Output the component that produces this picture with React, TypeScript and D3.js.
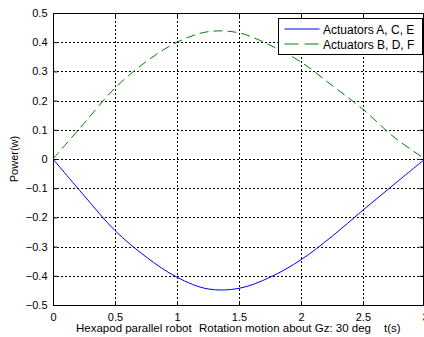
import { useEffect, useRef } from 'react';
import * as d3 from 'd3';

// time samples (s)
const times = [0, 0.25, 0.5, 0.75, 1.0, 1.25, 1.5, 1.75, 2.0, 2.25, 2.5, 2.75, 3.0];
// power of actuators A, C, E (w)
const powerACE = [0, -0.125, -0.245, -0.335, -0.405, -0.445, -0.443, -0.405, -0.345, -0.265, -0.175, -0.087, 0];
// power of actuators B, D, F (w)
const powerBDF = [0, 0.122, 0.243, 0.333, 0.4, 0.436, 0.432, 0.39, 0.332, 0.252, 0.17, 0.075, 0];

const xTicks = [0, 0.5, 1, 1.5, 2, 2.5, 3];
const yTicks = [-0.5, -0.4, -0.3, -0.2, -0.1, 0, 0.1, 0.2, 0.3, 0.4, 0.5];
const seriesNames = ['Actuators A, C, E', 'Actuators B, D, F'];

const W = 424;
const H = 337;
const FONT = 'Liberation Sans, Arial, sans-serif';

export default function App() {
  const svgRef = useRef<SVGSVGElement>(null);

  useEffect(() => {
    if (!svgRef.current) return;
    const svg = d3.select(svgRef.current);
    svg.selectAll('*').remove();

    const left = 53, right = 425, top = 13, bottom = 305;

    const x = d3.scaleLinear().domain([0, 3]).range([left, right]);
    const y = d3.scaleLinear().domain([-0.5, 0.5]).range([bottom, top]);

    svg.append('rect').attr('width', W).attr('height', H).attr('fill', '#fff');

    // grid
    const grid = svg.append('g')
      .attr('stroke', '#000')
      .attr('stroke-width', 1)
      .attr('stroke-dasharray', '2,2');
    xTicks.slice(1, -1).forEach(t => {
      grid.append('line')
        .attr('x1', Math.round(x(t)) + 0.5).attr('x2', Math.round(x(t)) + 0.5)
        .attr('y1', top).attr('y2', bottom);
    });
    yTicks.slice(1, -1).forEach(v => {
      grid.append('line')
        .attr('x1', left).attr('x2', right)
        .attr('y1', Math.round(y(v)) + 0.5).attr('y2', Math.round(y(v)) + 0.5);
    });

    // axes (box with inward ticks)
    const axisStyle = (g: any) => {
      g.select('.domain').remove();
      g.selectAll('line').attr('stroke', '#000');
      g.selectAll('text').attr('fill', '#000').style('font-family', FONT).style('font-size', '11px');
    };

    svg.append('g')
      .attr('transform', `translate(0,${bottom + 0.5})`)
      .call(d3.axisBottom(x).tickValues(xTicks).tickSize(-4).tickPadding(8).tickFormat(d3.format('')))
      .call(axisStyle);
    svg.append('g')
      .attr('transform', `translate(0,${top + 0.5})`)
      .call(d3.axisTop(x).tickValues(xTicks).tickSize(-4).tickFormat(() => ''))
      .call(axisStyle);
    svg.append('g')
      .attr('transform', `translate(${left + 0.5},0)`)
      .call(d3.axisLeft(y).tickValues(yTicks).tickSize(-4).tickPadding(6).tickFormat(d3.format('')))
      .call(axisStyle);
    svg.append('g')
      .attr('transform', `translate(${right - 1.5},0)`)
      .call(d3.axisRight(y).tickValues(yTicks).tickSize(-4).tickFormat(() => ''))
      .call(axisStyle);

    svg.append('rect')
      .attr('x', left + 0.5).attr('y', top + 0.5)
      .attr('width', right - left - 2).attr('height', bottom - top)
      .attr('fill', 'none').attr('stroke', '#000');

    // curves
    const line = d3.line<number>()
      .x((_, i) => x(times[i]))
      .y(d => y(d))
      .curve(d3.curveCatmullRom);

    svg.append('path')
      .datum(powerACE)
      .attr('fill', 'none')
      .attr('stroke', '#0000ff')
      .attr('stroke-width', 1)
      .attr('d', line);

    svg.append('path')
      .datum(powerBDF)
      .attr('fill', 'none')
      .attr('stroke', '#008000')
      .attr('stroke-width', 1)
      .attr('stroke-dasharray', '9,5')
      .attr('d', line);

    // legend
    const legend = svg.append('g').attr('transform', 'translate(278.5,18.5)');
    legend.append('rect')
      .attr('width', 144).attr('height', 36)
      .attr('fill', '#fff').attr('stroke', '#000');
    const colors = ['#0000ff', '#008000'];
    const dashes = [null, '14,6'];
    seriesNames.forEach((name, i) => {
      const row = legend.append('g').attr('transform', `translate(0,${10.5 + i * 15})`);
      row.append('line')
        .attr('x1', 6).attr('x2', 41)
        .attr('stroke', colors[i])
        .attr('stroke-dasharray', dashes[i]);
      row.append('text')
        .attr('x', 44.5).attr('y', 4.5)
        .style('font-family', FONT).style('font-size', '12px')
        .attr('fill', '#000')
        .text(name);
    });

    // axis labels
    svg.append('text')
      .attr('transform', `translate(18,${y(0)}) rotate(-90)`)
      .attr('text-anchor', 'middle')
      .style('font-family', FONT).style('font-size', '11px')
      .text('Power(w)');

    const xLabels: [number, string][] = [
      [76, 'Hexapod parallel robot'],
      [199, 'Rotation motion about Gz: 30 deg'],
      [384, 't(s)'],
    ];
    xLabels.forEach(([px, s]) => {
      svg.append('text')
        .attr('x', px).attr('y', 332)
        .style('font-family', FONT).style('font-size', '11.5px')
        .text(s);
    });
  }, []);

  return (
    <svg
      ref={svgRef}
      width={W}
      height={H}
      style={{ position: 'absolute', left: 0, top: 0, display: 'block' }}
    />
  );
}
